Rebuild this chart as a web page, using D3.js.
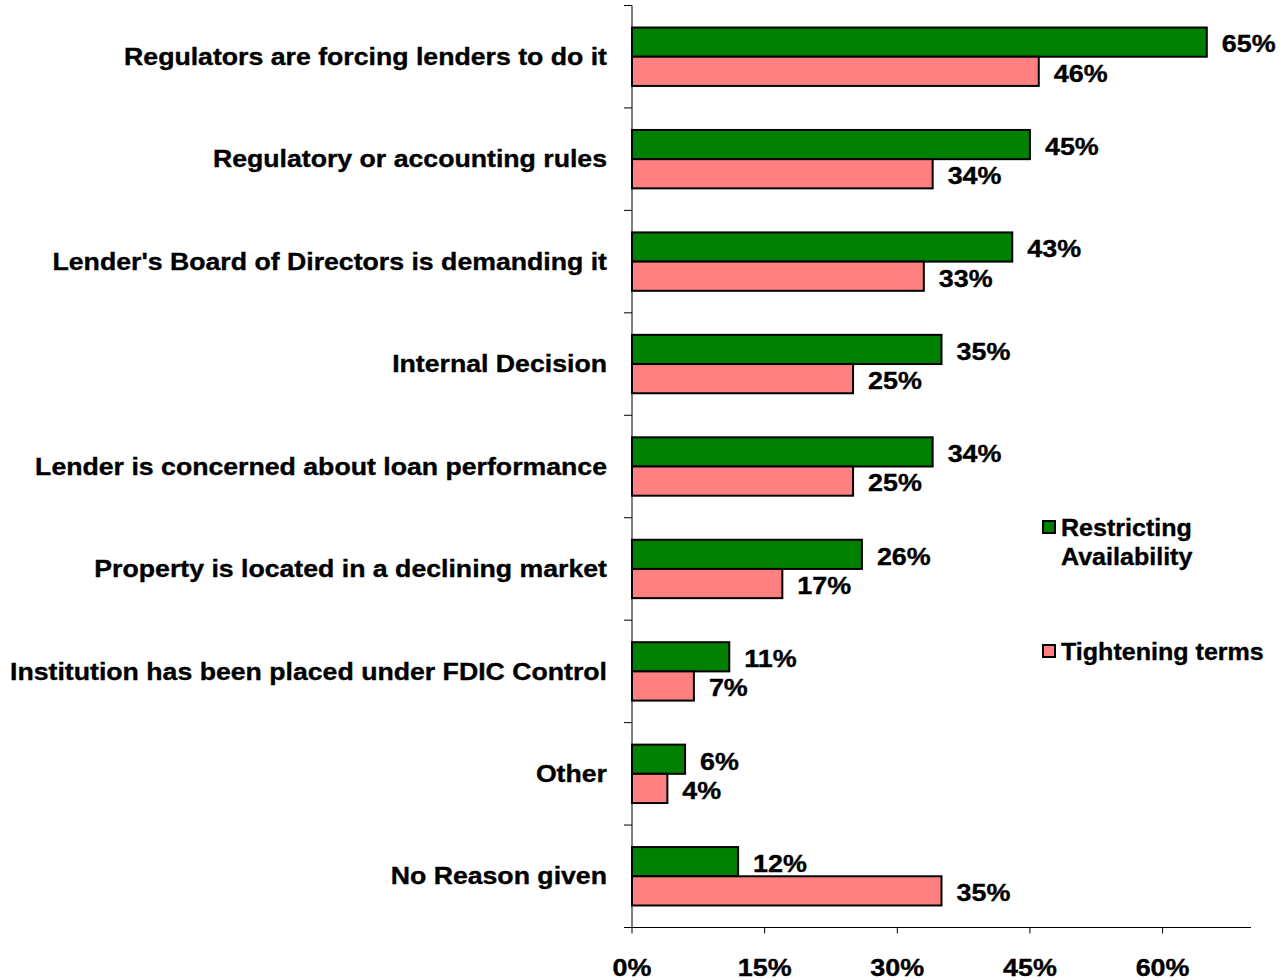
<!DOCTYPE html>
<html>
<head>
<meta charset="utf-8">
<script src="https://cdn.jsdelivr.net/npm/d3@7/dist/d3.min.js"></script>
<style>
  html, body { margin: 0; padding: 0; background: #fff; }
  svg text { font-family: "Liberation Sans", Arial, sans-serif; font-weight: bold; fill: #000;
             stroke: #000; stroke-width: 0.35px; }
</style>
</head>
<body>
<svg id="chart" width="1283" height="980"></svg>
<script>
// Reasons given for restricting availability / tightening terms
const categories = [
  "Regulators are forcing lenders to do it",
  "Regulatory or accounting rules",
  "Lender's Board of Directors is demanding it",
  "Internal Decision",
  "Lender is concerned about loan performance",
  "Property is located in a declining market",
  "Institution has been placed under FDIC Control",
  "Other",
  "No Reason given"
];
const restricting = [65, 45, 43, 35, 34, 26, 11, 6, 12];
const tightening  = [46, 34, 33, 25, 25, 17, 7, 4, 35];
const seriesNames = ["Restricting Availability", "Tightening terms"];
const seriesColors = ["#008000", "#FF8080"];
const xTicks = [0, 15, 30, 45, 60];

const svg = d3.select("#chart");
const plot = { left: 632, right: 1251, top: 5.5, bottom: 927.5 };
const FONT = 23.4;     // label font size

const x = d3.scaleLinear().domain([0, 70]).range([plot.left, plot.right]);
const y = d3.scaleBand().domain(categories).range([plot.top, plot.bottom]).padding(0);
const bw = y.bandwidth();
const sub = d3.scaleBand().domain(seriesNames).range([bw * 0.215, bw * 0.785]).padding(0);

// Places a text whose glyphs are widened horizontally around its anchor point
function wideText(sel, px, py, anchor, size, str, stretch) {
  return sel.append("text")
    .attr("transform", `translate(${px},${py}) scale(${stretch},1)`)
    .attr("text-anchor", anchor)
    .style("font-size", size + "px")
    .text(str);
}

const rows = categories.map((c, i) => ({
  cat: c,
  vals: [
    { s: seriesNames[0], v: restricting[i], color: seriesColors[0] },
    { s: seriesNames[1], v: tightening[i], color: seriesColors[1] }
  ]
}));

// Bars
const groups = svg.append("g").selectAll("g")
  .data(rows).join("g")
  .attr("transform", d => `translate(0,${y(d.cat)})`);

groups.selectAll("rect")
  .data(d => d.vals).join("rect")
  .attr("x", x(0))
  .attr("y", d => sub(d.s))
  .attr("width", d => x(d.v) - x(0))
  .attr("height", sub.bandwidth())
  .attr("fill", d => d.color)
  .attr("stroke", "#000")
  .attr("stroke-width", 2);

// Value labels
groups.each(function(d) {
  const g = d3.select(this);
  d.vals.forEach(v => {
    wideText(g, x(v.v) + 15, sub(v.s) + sub.bandwidth() / 2 + 10.3, "start", FONT, v.v + "%", 1.15);
  });
});

// Y axis: line, boundary ticks, category labels
const yAxis = svg.append("g");
yAxis.append("line")
  .attr("x1", plot.left).attr("x2", plot.left)
  .attr("y1", plot.top).attr("y2", plot.bottom)
  .attr("stroke", "#000").attr("stroke-width", 1);
const bounds = categories.map(c => y(c)).concat([y(categories[categories.length - 1]) + bw]);
yAxis.selectAll("line.tick")
  .data(bounds).join("line")
  .attr("class", "tick")
  .attr("x1", plot.left - 8).attr("x2", plot.left)
  .attr("y1", d => d).attr("y2", d => d)
  .attr("stroke", "#000").attr("stroke-width", 1);
categories.forEach(c => {
  wideText(yAxis, plot.left - 25, y(c) + bw / 2 + 8.2, "end", FONT, c, 1.14);
});

// X axis
const xAxis = svg.append("g");
xAxis.append("line")
  .attr("x1", plot.left).attr("x2", plot.right)
  .attr("y1", plot.bottom).attr("y2", plot.bottom)
  .attr("stroke", "#000").attr("stroke-width", 1);
xAxis.selectAll("line.tick")
  .data(xTicks).join("line")
  .attr("class", "tick")
  .attr("x1", d => x(d)).attr("x2", d => x(d))
  .attr("y1", plot.bottom).attr("y2", plot.bottom + 6)
  .attr("stroke", "#000").attr("stroke-width", 1);
xTicks.forEach(t => {
  wideText(xAxis, x(t), 975.5, "middle", FONT, t + "%", 1.15);
});

// Legend
const legend = svg.append("g");
const legendItems = [
  { lines: ["Restricting", "Availability"], color: seriesColors[0], y: 521 },
  { lines: ["Tightening terms"], color: seriesColors[1], y: 645 }
];
legendItems.forEach(item => {
  legend.append("rect")
    .attr("x", 1043).attr("y", item.y)
    .attr("width", 12).attr("height", 12)
    .attr("fill", item.color)
    .attr("stroke", "#000").attr("stroke-width", 2);
  item.lines.forEach((ln, i) => {
    legend.append("text")
      .attr("transform", `translate(1061,${item.y + 14.5 + i * 29.5}) scale(1.09,1)`)
      .style("font-size", "23px")
      .text(ln);
  });
});
</script>
</body>
</html>
